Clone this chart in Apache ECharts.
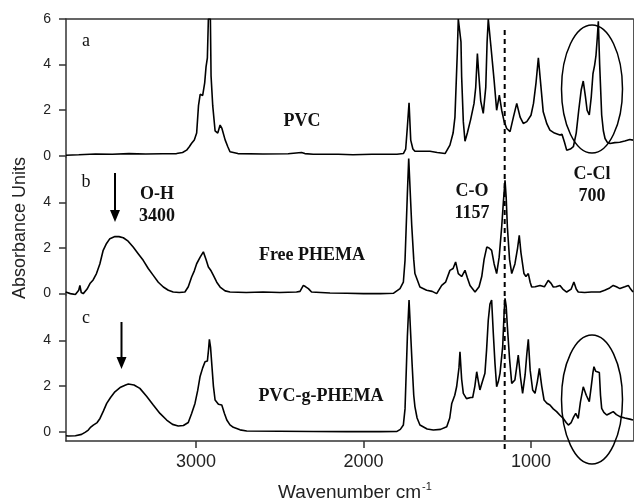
<!DOCTYPE html>
<html>
<head>
<meta charset="utf-8">
<script src="https://cdn.jsdelivr.net/npm/echarts@6/dist/echarts.min.js"></script>
<style>
	html,body{margin:0;padding:0;background:#fff;}
	#main{width:634px;height:498px;}
</style>
</head>
<body>
<div id="main"></div>
<script>
	// panel a : PVC
	var pvcWave=[3776,3700,3600,3500,3400,3300,3200,3116,3080,3056,3040,3026,3010,2996,2985,2975,2960,2948,2940,2932,2926,2920,2914,2910,2900,2886,2870,2856,2845,2826,2810,2797,2750,2600,2450,2370,2350,2300,2150,2063,1950,1800,1762,1748,1738,1728,1718,1705,1693,1650,1603,1560,1513,1484,1465,1454,1440,1434,1425,1418,1414,1404,1394,1380,1360,1340,1330,1320,1312,1300,1285,1270,1262,1255,1248,1240,1232,1220,1205,1189,1175,1160,1145,1125,1105,1085,1065,1046,1025,1000,985,970,956,945,927,905,887,860,840,827,815,800,787,765,747,730,715,700,688,675,665,652,640,630,620,612,604,598,590,578,568,558,545,528,500,470,440,410,391];
	var pvcAbs=[0.03,0.05,0.08,0.07,0.1,0.08,0.09,0.1,0.15,0.25,0.4,0.55,0.7,1.0,2.2,2.7,2.65,3.2,3.9,4.3,6.0,6.0,6.0,3.5,2.2,1.1,1.0,1.35,1.2,0.7,0.4,0.18,0.1,0.08,0.09,0.15,0.1,0.07,0.07,0.05,0.07,0.07,0.1,0.3,1.27,2.33,0.69,0.3,0.2,0.2,0.2,0.15,0.1,0.47,1.0,1.7,4.5,6.0,6.0,5.0,3.47,1.5,0.64,1.0,1.6,2.3,3.0,4.49,3.6,2.4,1.86,3.0,5.0,6.0,6.0,4.86,4.8,3.3,2.0,2.66,2.0,1.5,1.2,1.06,1.7,2.3,1.7,1.42,1.5,1.78,2.3,3.2,4.3,3.4,1.93,1.4,1.13,1.0,0.95,0.91,0.95,0.6,0.25,0.3,0.4,1.0,2.0,2.9,3.28,2.6,2.0,1.79,2.6,3.6,3.98,4.4,5.2,5.9,4.0,1.79,1.1,0.76,0.6,0.54,0.58,0.6,0.65,0.72,0.69];

	// panel b : Free PHEMA
	var phemaWave=[3778,3750,3720,3712,3700,3693,3685,3673,3650,3633,3614,3594,3574,3554,3534,3514,3484,3460,3434,3405,3375,3345,3315,3285,3255,3225,3195,3165,3136,3100,3066,3046,3026,3010,2996,2975,2956,2940,2926,2910,2896,2876,2856,2826,2797,2700,2600,2500,2400,2379,2359,2345,2329,2310,2200,2100,2000,1900,1820,1782,1762,1752,1738,1730,1722,1712,1700,1693,1663,1623,1590,1563,1533,1510,1484,1465,1450,1434,1414,1394,1380,1364,1334,1310,1294,1280,1264,1250,1235,1220,1205,1190,1175,1165,1155,1148,1141,1128,1115,1096,1080,1070,1060,1042,1030,1016,1005,996,975,946,920,897,880,867,850,827,810,787,760,744,730,718,680,640,588,560,530,509,490,469,440,419,405,391];
	var phemaAbs=[0.07,0.0,-0.04,-0.05,0.15,0.36,0.05,0.0,0.2,0.44,0.6,0.88,1.3,1.9,2.2,2.41,2.5,2.5,2.45,2.3,2.04,1.75,1.46,1.1,0.8,0.5,0.29,0.15,0.07,0.05,0.07,0.3,0.73,1.0,1.31,1.6,1.83,1.5,1.17,1.0,0.8,0.5,0.29,0.12,0.07,0.05,0.07,0.05,0.07,0.1,0.36,0.3,0.22,0.07,0.03,0.02,0.0,0.0,0.02,0.22,0.5,1.46,4.39,5.92,5.9,3.0,1.5,0.88,0.29,0.15,0.1,0.0,0.36,0.5,1.02,1.1,1.39,0.88,0.75,1.02,0.7,0.36,0.07,0.3,0.75,1.5,2.04,2.0,1.9,1.3,0.88,1.6,2.92,4.0,4.97,4.2,2.92,1.5,0.88,1.3,2.0,2.56,1.8,0.88,0.75,0.88,0.5,0.29,0.3,0.36,0.3,0.58,0.45,0.29,0.3,0.36,0.2,0.07,0.2,0.51,0.2,0.07,0.05,0.07,0.07,0.15,0.25,0.36,0.3,0.22,0.3,0.36,0.2,0.07];

	// panel c : PVC-g-PHEMA
	var graftWave=[3776,3762,3720,3683,3660,3643,3628,3613,3590,3573,3553,3533,3510,3484,3450,3420,3404,3370,3335,3295,3255,3215,3175,3140,3106,3075,3046,3026,3006,2990,2976,2960,2946,2932,2925,2920,2913,2906,2896,2886,2866,2846,2830,2816,2797,2777,2737,2697,2500,2300,2100,1900,1800,1780,1762,1752,1738,1728,1720,1710,1700,1693,1680,1663,1620,1583,1540,1503,1485,1473,1455,1444,1430,1424,1414,1404,1385,1374,1360,1348,1335,1324,1314,1305,1290,1275,1265,1255,1245,1235,1225,1215,1205,1195,1185,1169,1160,1155,1148,1141,1128,1115,1105,1096,1086,1076,1063,1050,1035,1025,1016,1005,990,976,962,950,936,922,905,887,867,847,827,807,790,777,760,745,733,718,705,688,670,652,640,630,624,614,604,592,585,578,565,548,530,509,490,469,440,410,391];
	var graftAbs=[-0.18,-0.19,-0.18,-0.12,-0.02,0.07,0.2,0.29,0.4,0.58,0.9,1.24,1.5,1.75,1.95,2.05,2.09,2.05,1.9,1.55,1.17,0.8,0.51,0.32,0.25,0.27,0.4,0.8,1.24,1.8,2.41,2.8,3.07,3.1,3.6,4.05,3.7,3.0,2.0,1.39,1.2,1.17,0.8,0.51,0.3,0.19,0.08,0.03,0.02,0.01,0.0,0.0,0.01,0.1,0.29,1.0,4.17,5.78,5.7,3.0,1.6,1.1,0.6,0.29,0.12,0.07,0.1,0.22,0.6,1.24,1.6,1.97,2.8,3.51,2.3,1.68,1.45,1.39,1.5,1.5,2.0,2.63,2.2,1.83,2.2,2.56,3.6,4.9,5.6,5.78,4.32,3.0,1.97,2.2,2.56,3.73,5.3,5.85,5.5,4.61,3.2,2.12,2.1,2.27,2.8,3.36,2.4,1.68,2.5,3.4,4.05,2.7,1.83,1.68,2.2,2.78,2.0,1.39,1.25,1.17,1.0,0.88,0.72,0.58,0.4,0.29,0.4,0.65,0.8,0.58,1.3,1.97,1.6,1.32,2.0,2.6,2.85,2.65,2.7,2.6,1.6,1.02,0.85,0.73,0.8,0.88,0.75,0.66,0.6,0.55,0.51];

	var xTicks=[1000,2000,3000];
	var yTicksTop=[0,2,4,6];
	var yTicks=[0,2,4];

	function pairs(w,a){
		var out=[];
		for(var i=0;i<w.length;i++){out.push([w[i],a[i]]);}
		return out;
	}

	var axisColor='#333';
	var serif='"Liberation Serif","Times New Roman",serif';
	var sans='"Liberation Sans",Arial,sans-serif';

	var grids=[
		{left:66,right:1,top:19,height:138},
		{left:66,right:1,top:157,height:138},
		{left:66,right:1,top:295,height:146}
	];
	var yRanges=[[-0.05,6],[-0.06,5.99],[-0.41,6]];

	var xAxes=[],yAxes=[];
	for(var g=0;g<3;g++)
	{
		xAxes.push({
			type:'value',gridIndex:g,min:391,max:3776,inverse:true,
			position:g==0?'top':'bottom',
			show:g!=1,
			axisLine:{show:true,onZero:false,lineStyle:{color:axisColor,width:1.5}},
			axisTick:{show:g==2,customValues:xTicks,length:7,lineStyle:{color:axisColor,width:1.5}},
			axisLabel:{show:g==2,customValues:xTicks,margin:12,fontSize:18,color:'#222',fontFamily:sans,
				formatter:function(v){return String(v);}},
			splitLine:{show:false}
		});
		yAxes.push({
			type:'value',gridIndex:g,min:yRanges[g][0],max:yRanges[g][1],
			axisLine:{show:true,onZero:false,lineStyle:{color:axisColor,width:1.5}},
			axisTick:{show:true,customValues:g==0?yTicksTop:yTicks,length:7,lineStyle:{color:axisColor,width:1.5}},
			axisLabel:{customValues:g==0?yTicksTop:yTicks,margin:15,fontSize:14,color:'#222',fontFamily:sans},
			splitLine:{show:false}
		});
	}
	// right border
	for(var g=0;g<3;g++)
	{
		yAxes.push({
			type:'value',gridIndex:g,position:'right',min:yRanges[g][0],max:yRanges[g][1],
			axisLine:{show:true,onZero:false,lineStyle:{color:'#555',width:1}},
			axisTick:{show:false},axisLabel:{show:false},splitLine:{show:false}
		});
	}

	var lineStyle={color:'#000',width:1.6};
	var series=[
		{name:'PVC',type:'line',xAxisIndex:0,yAxisIndex:0,showSymbol:false,lineStyle:lineStyle,data:pairs(pvcWave,pvcAbs)},
		{name:'Free PHEMA',type:'line',xAxisIndex:1,yAxisIndex:1,showSymbol:false,lineStyle:lineStyle,data:pairs(phemaWave,phemaAbs)},
		{name:'PVC-g-PHEMA',type:'line',xAxisIndex:2,yAxisIndex:2,showSymbol:false,lineStyle:lineStyle,data:pairs(graftWave,graftAbs)}
	];

	function label(text,x,y,bold){
		return {type:'text',x:x,y:y,z:10,style:{text:text,fill:'#111',font:(bold?'bold ':'')+'18px '+serif,textAlign:'center',textVerticalAlign:'middle'}};
	}
	function arrow(x,y1,y2){
		return [
			{type:'line',z:10,shape:{x1:x,y1:y1,x2:x,y2:y2-10},style:{stroke:'#000',lineWidth:2}},
			{type:'polygon',z:10,shape:{points:[[x-5,y2-12],[x+5,y2-12],[x,y2]]},style:{fill:'#000'}}
		];
	}

	var myChart=echarts.init(document.getElementById('main'));
	var option={
		animation:false,
		backgroundColor:'#fff',
		grid:grids,
		xAxis:xAxes,
		yAxis:yAxes,
		series:series
	};
	myChart.setOption(option);

	var dashX=myChart.convertToPixel({xAxisIndex:2},1157);
	var graphics=[
		label('a',86,41,false),
		label('b',86,182,false),
		label('c',86,318,false),
		label('PVC',302,121,true),
		label('O-H',157,194,true),
		label('3400',157,216,true),
		label('Free PHEMA',312,255,true),
		label('C-O',472,191,true),
		label('1157',472,213,true),
		label('C-Cl',592,174,true),
		label('700',592,196,true),
		label('PVC-g-PHEMA',321,396,true),
		{type:'line',z:10,shape:{x1:dashX,y1:30,x2:dashX,y2:450},style:{stroke:'#000',lineWidth:2,lineDash:[5,4]}},
		{type:'ellipse',z:10,shape:{cx:592,cy:89,rx:30.5,ry:64},style:{fill:'none',stroke:'#000',lineWidth:1.5}},
		{type:'ellipse',z:10,shape:{cx:592,cy:399.5,rx:30.5,ry:64.5},style:{fill:'none',stroke:'#000',lineWidth:1.5}},
		{type:'text',x:20,y:228,rotation:Math.PI/2,style:{text:'Absorbance Units',fill:'#222',font:'18px '+sans,textAlign:'center',textVerticalAlign:'middle'}},
		{type:'text',x:421,y:493,style:{text:'Wavenumber cm',fill:'#222',font:'19px '+sans,textAlign:'right',textVerticalAlign:'middle'}},
		{type:'text',x:422,y:487,style:{text:'-1',fill:'#222',font:'11px '+sans,textAlign:'left',textVerticalAlign:'middle'}}
	];
	graphics=graphics.concat(arrow(115,173,222)).concat(arrow(121.5,322,369));
	myChart.setOption({graphic:graphics});
</script>
</body>
</html>
